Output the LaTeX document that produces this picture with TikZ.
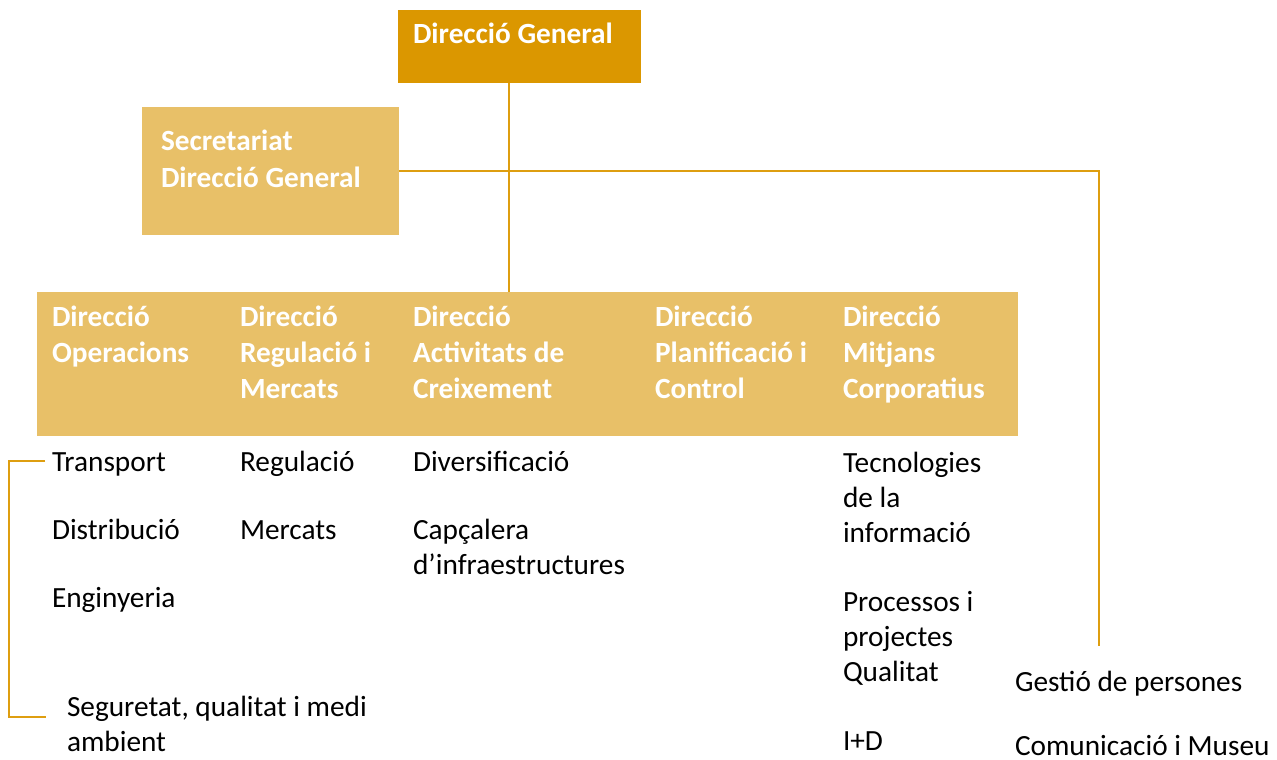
\documentclass[tikz,border=0pt]{standalone}
\usepackage{fontspec}
\setmainfont{Carlito}
\definecolor{gold}{HTML}{DB9700}
\definecolor{linegold}{HTML}{DE9E10}
\definecolor{lightgold}{HTML}{E8C068}
\begin{document}
\begin{tikzpicture}[x=1pt,y=-1pt,
  boxfill/.style={fill=#1, draw=none, anchor=north west, inner sep=0pt, outer sep=0pt},
  txt/.style={anchor=north west, inner sep=0pt, outer sep=0pt, align=left,
    execute at begin node={\rule{0pt}{25pt}}},
  hd/.style={txt, text=white, font=\fontsize{29.3}{36}\selectfont\bfseries},
  bd/.style={txt, text=black, font=\fontsize{29.3}{35}\selectfont},
  conn/.style={draw=linegold, line width=2.2pt}]
\useasboundingbox (0,0) rectangle (1277,760);

% boxes
\node[boxfill=gold, minimum width=243pt, minimum height=73pt] (dg) at (398,10) {};
\node[boxfill=lightgold, minimum width=257pt, minimum height=128pt] (sec) at (142,107) {};
\node[boxfill=lightgold, minimum width=981pt, minimum height=144pt] (band) at (37,292) {};

% box texts
\node[hd] (dgt) at (413,19) {Direcció General};
\node[hd, font=\fontsize{29.3}{37}\selectfont\bfseries] (sect) at (161,130) {Secretariat\\Direcció General};
\node[hd] (h1) at (52,306) {Direcció\\Operacions};
\node[hd] (h2) at (240,306) {Direcció\\Regulació i\\Mercats};
\node[hd] (h3) at (413,306) {Direcció\\Activitats de\\Creixement};
\node[hd] (h4) at (655,306) {Direcció\\Planificació i\\Control};
\node[hd] (h5) at (843,306) {Direcció\\Mitjans\\Corporatius};

% body texts
\node[bd] (transport) at (52,446) {Transport};
\node[bd] (distribucio) at (52,514) {Distribució};
\node[bd] (enginyeria) at (52,582) {Enginyeria};
\node[bd] (seguretat) at (67,696) {Seguretat, qualitat i medi\\ambient};
\node[bd] (regulacio) at (240,446) {Regulació};
\node[bd] (mercats) at (240,514) {Mercats};
\node[bd] (diversificacio) at (413,446) {Diversificació};
\node[bd] (capcalera) at (413,519) {Capçalera\\d’infraestructures};
\node[bd] (tecnologies) at (843,452) {Tecnologies\\de la\\informació};
\node[bd] (processos) at (843,591) {Processos i\\projectes\\Qualitat};
\node[bd] (id) at (843,725) {I+D};
\node[bd] (gestio) at (1015,666) {Gestió de persones};
\node[bd] (comunicacio) at (1015,730) {Comunicació i Museu};

% connectors
\coordinate (vx) at (509,0);
\draw[conn] (vx |- dg.south) -- (vx |- band.north);
\coordinate (rc) at (1099,646);
\draw[conn] (sec.east) -| (rc);
\coordinate (bt) at (45,461);
\coordinate (bb) at (46,717);
\draw[conn] (bt) -- (9,461) |- (bb);
\end{tikzpicture}
\end{document}
